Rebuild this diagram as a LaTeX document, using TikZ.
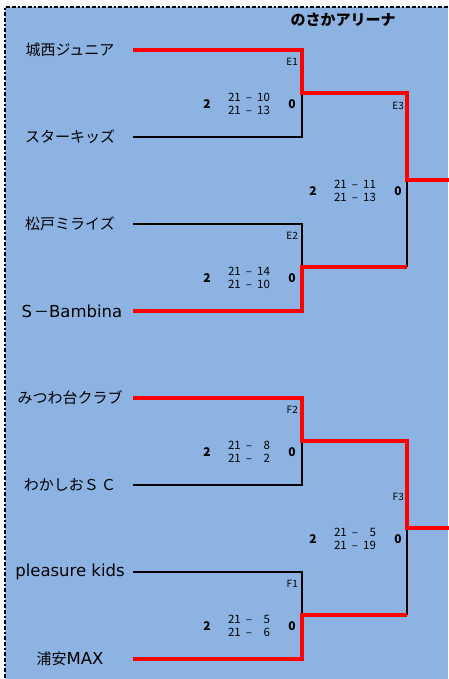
\documentclass[tikz,border=0pt]{standalone}
\usepackage{fontspec}
\setmainfont{Noto Sans CJK JP}
\newfontfamily\latn{DejaVu Sans}
\newcommand{\lt}[1]{{\latn\fontsize{16.5}{16.5}\selectfont #1}}
\newcommand{\scr}[2]{21\hspace{5pt}–\hspace{5pt}\makebox[13pt][r]{#2}}
\begin{document}
\begin{tikzpicture}[x=1pt,y=-1pt,
  win/.style={red,line width=4pt},
  lose/.style={black,line width=2pt},
  team/.style={font=\fontsize{15}{15}\selectfont,inner sep=0pt},
  score/.style={font=\fontsize{11.5}{13.5}\selectfont,inner sep=0pt,align=center},
  sets/.style={font=\fontsize{12}{12}\selectfont\bfseries,inner sep=0pt},
  mlabel/.style={font=\fontsize{10}{10}\selectfont,inner sep=0pt,anchor=east},
  title/.style={font=\fontsize{15}{15}\selectfont\bfseries,inner sep=0pt}]
\useasboundingbox (0,0) rectangle (449,679);
\fill[white] (0,0) rectangle (449,679);
\fill[fill={rgb,255:red,141;green,179;blue,226}] (5,7) rectangle (448,679);
\draw[line width=2pt,dash pattern=on 4pt off 2pt on 4pt off 2pt on 2pt off 2pt] (448,7) -- (5,7) -- (5,679);
\node[title] (t) at (343,20) {のさかアリーナ};
% team names
\node[team] (n1) at (70,50) {城西ジュニア};
\node[team] (n2) at (70,137) {スターキッズ};
\node[team] (n3) at (70,224) {松戸ミライズ};
\node[team] (n4) at (72,311) {\lt{S}\hspace{2pt}－\lt{Bambina}};
\node[team] (n5) at (70,398) {みつわ台クラブ};
\node[team] (n6) at (70,485) {わかしおＳ\,Ｃ};
\node[team] (n7) at (70,572) {\lt{pleasure kids}};
\node[team] (n8) at (70,659) {浦安\lt{MAX}};
% coordinates
\foreach \i/\y in {1/50,2/137,3/224,4/311,5/398,6/485,7/572,8/659}{
  \coordinate (s\i) at (133,\y);
  \coordinate (e\i) at (302,\y);
}
\coordinate (mE1) at (302,93);
\coordinate (mE2) at (302,267);
\coordinate (mF2) at (302,441);
\coordinate (mF1) at (302,615);
\coordinate (pE1) at (407,93);
\coordinate (pE2) at (407,267);
\coordinate (pF2) at (407,441);
\coordinate (pF1) at (407,615);
\coordinate (mE3) at (407,180);
\coordinate (mF3) at (407,528);
\coordinate (oE3) at (449,180);
\coordinate (oF3) at (449,528);
% losers
\draw[lose] (s2) -- (e2) -- (mE1);
\draw[lose] (s3) -- (e3) -- (mE2);
\draw[lose] (s6) -- (e6) -- (mF2);
\draw[lose] (s7) -- (e7) -- (mF1);
\draw[lose] (pE2) -- (mE3);
\draw[lose] (pF1) -- (mF3);
% winners
\draw[win] (s1) -- (e1) -- (mE1) -- (pE1) -- (mE3) -- (oE3);
\draw[win] (s4) -- (e4) -- (mE2) -- (pE2);
\draw[win] (s5) -- (e5) -- (mF2) -- (pF2) -- (mF3) -- (oF3);
\draw[win] (s8) -- (e8) -- (mF1) -- (pF1);
% match labels
\node[mlabel] (lE1) at (298,62) {E1};
\node[mlabel] (lE2) at (298,236) {E2};
\node[mlabel] (lF2) at (298,410) {F2};
\node[mlabel] (lF1) at (298,584) {F1};
\node[mlabel] (lE3) at (404,106) {E3};
\node[mlabel] (lF3) at (404,497) {F3};
% scores
\foreach \n/\x/\y/\a/\b/\c/\d in {E1/207/104/21/10/21/13,
                          E2/207/278/21/14/21/10,
                          F2/207/452/21/8/21/2,
                          F1/207/626/21/5/21/6,
                          E3/313/191/21/11/21/13,
                          F3/313/539/21/5/21/19}{
  \node[sets] (w\n) at (\x,\y) {2};
  \node[score] (sc\n) at (\x+42,\y) {\scr{\a}{\b}\\\scr{\c}{\d}};
  \node[sets] (l\n) at (\x+85,\y) {0};
}
\end{tikzpicture}
\end{document}
